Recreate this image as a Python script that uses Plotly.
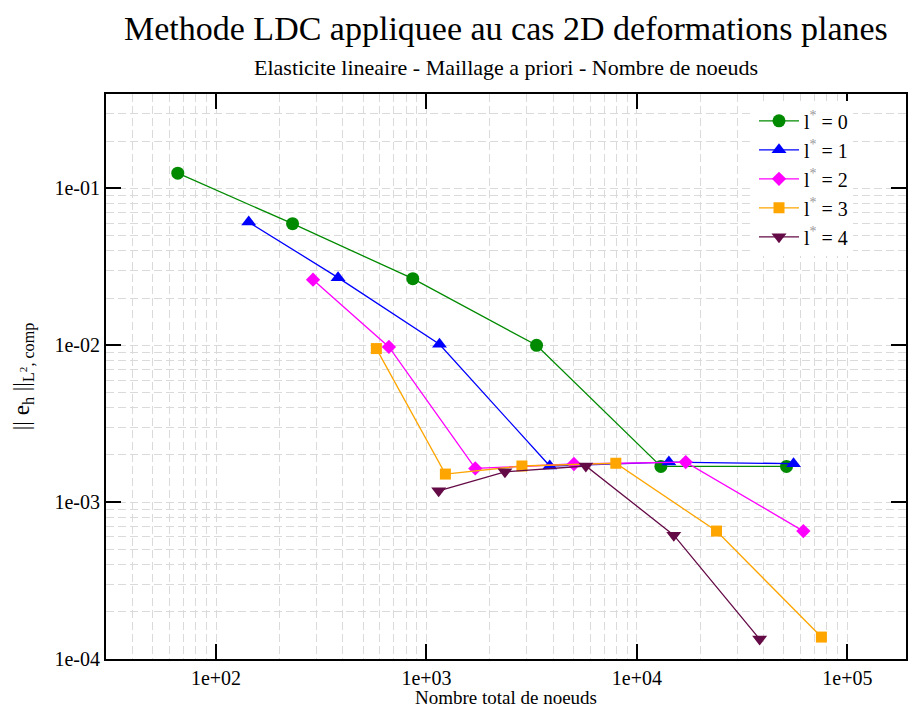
import numpy as np
import plotly.graph_objects as go

# nombre total de noeuds / erreur ||e_h||_L2,comp  pour chaque niveau l*
nodes_l0 = [65.8, 231, 861, 3336, 13000, 51400]
err_l0 = [0.1252, 0.0596, 0.0266, 0.0100, 1.69e-3, 1.69e-3]

nodes_l1 = [143, 380, 1153, 3854, 14190, 55500]
err_l1 = [0.0610, 0.0270, 0.01015, 1.70e-3, 1.80e-3, 1.76e-3]

nodes_l2 = [289, 663, 1706, 5020, 17060, 61800]
err_l2 = [0.0262, 0.00976, 1.64e-3, 1.75e-3, 1.80e-3, 6.54e-4]

nodes_l3 = [578, 1230, 2842, 7940, 23900, 75300]
err_l3 = [9.53e-3, 1.51e-3, 1.70e-3, 1.77e-3, 6.54e-4, 1.38e-4]

nodes_l4 = [1143, 2360, 5720, 14970, 38300]
err_l4 = [1.18e-3, 1.56e-3, 1.70e-3, 6.16e-4, 1.34e-4]

x_ticks = [1e2, 1e3, 1e4, 1e5]
x_ticktext = ["1e+02", "1e+03", "1e+04", "1e+05"]
y_ticks = [1e-4, 1e-3, 1e-2, 1e-1]
y_ticktext = ["1e-04", "1e-03", "1e-02", "1e-01"]

FONT = "Liberation Serif"
GRID = "#dadada"

series = [
    (nodes_l0, err_l0, "0", "#008a00", "circle", 13),
    (nodes_l1, err_l1, "1", "#0000ff", "triangle-up", 13),
    (nodes_l2, err_l2, "2", "#ff00ff", "diamond", 11),
    (nodes_l3, err_l3, "3", "#ffa500", "square", 11),
    (nodes_l4, err_l4, "4", "#640a46", "triangle-down", 13),
]

fig = go.Figure()
for xs, ys, lvl, col, sym, sz in series:
    fig.add_trace(go.Scatter(
        x=xs, y=ys, mode="lines+markers",
        name="l<sup><span style='color:#999999'>*</span></sup> = " + lvl,
        line=dict(color=col, width=1.3),
        marker=dict(color=col, symbol=sym, size=sz, line=dict(width=0)),
    ))

# grille: 1..9 dans chaque decade
x_grid = [m * 10.0 ** d for d in range(1, 6) for m in range(1, 10)]
y_grid = [m * 10.0 ** d for d in range(-5, 0) for m in range(1, 10)]

axis_common = dict(
    type="log", showline=True, linecolor="black", linewidth=2, mirror="ticks",
    ticks="inside", ticklen=15, tickwidth=1.5, tickcolor="black",
    showgrid=False, zeroline=False,
    tickfont=dict(family=FONT, size=20, color="black"),
    minor=dict(tickmode="array", showgrid=True, gridcolor=GRID,
               griddash="8px,4px", gridwidth=1, ticks=""),
)

fig.update_xaxes(
    **axis_common, range=[np.log10(30), np.log10(1.9e5)],
    tickmode="array", tickvals=x_ticks, ticktext=x_ticktext,
    title=dict(text="Nombre total de noeuds", font=dict(family=FONT, size=19, color="black"),
               standoff=3),
)
fig.update_xaxes(minor_tickvals=x_grid)
fig.update_yaxes(
    **axis_common, range=[-4, np.log10(0.4)],
    tickmode="array", tickvals=y_ticks, ticktext=y_ticktext,
    title=dict(text="|| e<sub>h</sub> ||<sub>L<sup>2</sup>, comp</sub>",
               font=dict(family=FONT, size=23, color="black"), standoff=18),
)
fig.update_yaxes(minor_tickvals=y_grid)

fig.update_layout(
    width=910, height=708,
    margin=dict(l=106, r=2, t=94, b=49),
    paper_bgcolor="white", plot_bgcolor="white",
    font=dict(family=FONT, color="black"),
    showlegend=True,
    legend=dict(x=0.81, y=0.987, xanchor="left", yanchor="top",
                bgcolor="white", font=dict(family=FONT, size=20, color="black"),
                itemwidth=40, tracegroupgap=0),
    annotations=[
        dict(text="Methode LDC appliquee au cas 2D deformations planes",
             xref="paper", yref="paper", x=0.5, y=1.0, yshift=66,
             xanchor="center", yanchor="middle", showarrow=False,
             font=dict(family=FONT, size=34, color="black")),
        dict(text="Elasticite lineaire - Maillage a priori - Nombre de noeuds",
             xref="paper", yref="paper", x=0.5, y=1.0, yshift=27,
             xanchor="center", yanchor="middle", showarrow=False,
             font=dict(family=FONT, size=22, color="black")),
    ],
)

fig.write_html("out.html", config={"displayModeBar": False},
               post_script="document.body.style.margin='0';document.body.style.overflow='hidden';")
